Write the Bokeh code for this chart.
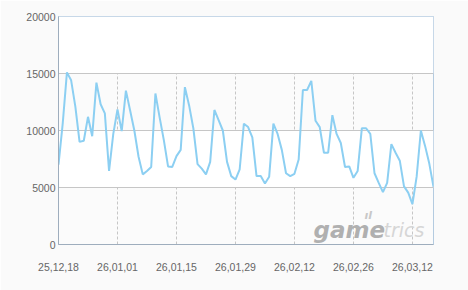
import pandas as pd
from datetime import datetime
from bokeh.plotting import figure
from bokeh.models import Range1d, FixedTicker, DatetimeTickFormatter, Label, NumeralTickFormatter
from bokeh.embed import file_html
from bokeh.resources import INLINE

# ---- data ----
start_date = "2025-12-18"
players = [
    7000, 10600, 15100, 14400, 12100, 9000, 9100, 11200, 9500, 14200,
    12300, 11500, 6450, 9700, 11850, 9950, 13500, 11750, 10000, 7700,
    6150, 6450, 6800, 13250, 11150, 9150, 6850, 6800, 7750, 8300,
    13800, 12200, 10200, 7050, 6650, 6150, 7250, 11800, 10900, 10000,
    7250, 6000, 5700, 6600, 10600, 10300, 9400, 6000, 6000, 5350,
    5950, 10600, 9700, 8300, 6250, 6000, 6200, 7450, 13550, 13550,
    14350, 10850, 10300, 8050, 8050, 11350, 9700, 8900, 6800, 6850,
    5850, 6450, 10200, 10200, 9700, 6250, 5400, 4600, 5400, 8800,
    8050, 7350, 5100, 4550, 3550, 5950, 10000, 8650, 7100, 5050,
]
dates = pd.date_range(start_date, periods=len(players), freq="D")
x_tick_dates = pd.date_range(start_date, periods=7, freq="14D")
y_ticks = [0, 5000, 10000, 15000, 20000]

FONT = "Liberation Sans"

p = figure(
    width=468, height=290,
    x_axis_type="datetime",
    x_range=Range1d(start=datetime(2025, 12, 18), end=datetime(2026, 3, 17)),
    y_range=Range1d(start=0, end=20000),
    output_backend="svg", toolbar_location=None,
    min_border_left=58, min_border_right=35, min_border_top=16, min_border_bottom=46,
)
p.border_fill_color = "#fafafa"
p.background_fill_color = "#fbfbfb"
p.outline_line_color = "#b4cbe0"
p.outline_line_width = 1

# grids
p.ygrid.ticker = FixedTicker(ticks=y_ticks)
p.ygrid.grid_line_color = "#c6c6c6"
p.ygrid.band_fill_color = "#ffffff"
p.ygrid.band_fill_alpha = 1.0
p.xgrid.ticker = FixedTicker(ticks=[int(t.value // 10**6) for t in x_tick_dates])
p.xgrid.grid_line_color = "#c6c6c6"
p.xgrid.grid_line_dash = "3 2"

# axes
for ax in (p.xaxis[0], p.yaxis[0]):
    ax.axis_line_color = "#9eadbd"
    ax.major_tick_line_color = None
    ax.minor_tick_line_color = None
    ax.major_tick_out = 0
    ax.major_tick_in = 0
    ax.major_label_text_font = FONT
    ax.major_label_text_font_size = "10.5px"
    ax.major_label_text_color = "#666666"

p.xaxis.ticker = FixedTicker(ticks=[int(t.value // 10**6) for t in x_tick_dates])
fmt = "%y,%m,%d"
p.xaxis.formatter = DatetimeTickFormatter(
    microseconds=fmt, milliseconds=fmt, seconds=fmt, minsec=fmt, minutes=fmt,
    hourmin=fmt, hours=fmt, days=fmt, months=fmt, years=fmt,
)
p.xaxis.major_label_standoff = 18
p.yaxis.ticker = FixedTicker(ticks=y_ticks)
p.yaxis.formatter = NumeralTickFormatter(format="0")
p.yaxis.major_label_standoff = 3

# line
p.line(dates, players, line_color="#8ccff2", line_width=2)

# watermark
p.add_layout(Label(x=255, y=15, x_units="screen", y_units="screen", text="game",
                   text_font="DejaVu Sans", text_font_style="bold italic",
                   text_font_size="23px", text_color="#b0b0b0", text_baseline="alphabetic"))
p.add_layout(Label(x=325, y=15, x_units="screen", y_units="screen", text="trics",
                   text_font="DejaVu Sans", text_font_style="italic",
                   text_font_size="19px", text_color="#d6d6d6", text_baseline="alphabetic"))
p.add_layout(Label(x=306, y=29, x_units="screen", y_units="screen", text="ıl",
                   text_font="DejaVu Sans", text_font_style="bold italic",
                   text_font_size="11px", text_color="#c8c8c8", text_baseline="alphabetic"))

open("out.html", "w").write(file_html(p, INLINE))
